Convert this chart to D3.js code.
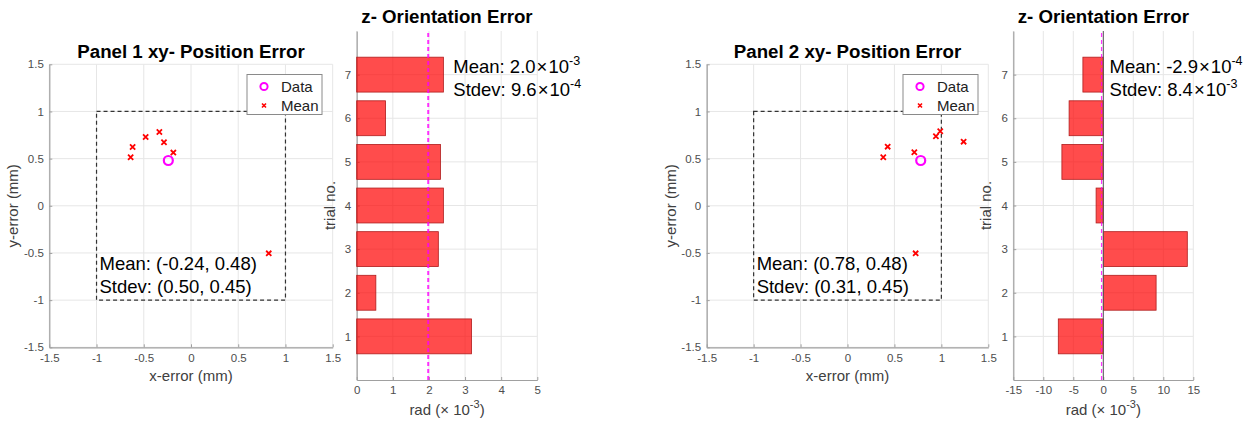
<!DOCTYPE html>
<html><head><meta charset="utf-8">
<script src="https://cdn.jsdelivr.net/npm/d3@7"></script>
<style>body{margin:0;background:#fff;} svg{display:block;font-family:"Liberation Sans",Arial,sans-serif;}</style>
</head><body>
<svg id="chart" width="1259" height="423"></svg>
<script>
// ---- data ----
const trials = [1,2,3,4,5,6,7];
const p1PointsX = [-0.639,-0.618,-0.480,-0.335,-0.286,-0.187,0.823];
const p1PointsY = [0.514,0.624,0.730,0.783,0.673,0.564,-0.504];
const p1Mean = [-0.24, 0.48];
const p1Stdev = [0.50, 0.45];
const p1Orient = [3.18,0.53,2.26,2.40,2.32,0.80,2.40];
const p1OrientMean = 1.98;
const p2PointsX = [0.381,0.428,0.712,0.942,0.988,1.237,0.726];
const p2PointsY = [0.514,0.627,0.567,0.737,0.790,0.680,-0.504];
const p2Mean = [0.78, 0.48];
const p2Stdev = [0.31, 0.45];
const p2Orient = [-7.5,8.8,14.0,-1.2,-6.9,-5.7,-3.4];
const p2OrientMean = -0.29;
const xyTicks = [-1.5,-1,-0.5,0,0.5,1,1.5];
const barTicks1 = [0,1,2,3,4,5];
const barTicks2 = [-15,-10,-5,0,5,10,15];
const orientText1 = ["2.0","-3","9.6","-4"];
const orientText2 = ["-2.9","-4","8.4","-3"];

const svg = d3.select("#chart");
const gridC = "#e6e6e6", axisC = "#a0a0a0", tickTxt = "#4d4d4d", labTxt = "#404040";
const fmt = d => String(d);
const f2 = d => d.toFixed(2);

function axesFrame(x, y, xt, yt) {
  const g = svg.append("g");
  const [x0,x1] = x.range(), [y0,y1] = y.range();
  g.selectAll(".gx").data(xt).join("line").attr("x1",d=>x(d)).attr("x2",d=>x(d))
    .attr("y1",y0).attr("y2",y1).attr("stroke",gridC).attr("stroke-width",1);
  g.selectAll(".gy").data(yt).join("line").attr("y1",d=>y(d)).attr("y2",d=>y(d))
    .attr("x1",x0).attr("x2",x1).attr("stroke",gridC).attr("stroke-width",1);
  const ax = svg.append("g").attr("transform",`translate(0,${y0})`)
    .call(d3.axisBottom(x).tickValues(xt).tickSizeInner(-3).tickSizeOuter(0).tickPadding(4.5).tickFormat(fmt));
  const ay = svg.append("g").attr("transform",`translate(${x0},0)`)
    .call(d3.axisLeft(y).tickValues(yt).tickSizeInner(-3).tickSizeOuter(0).tickPadding(5.5).tickFormat(fmt));
  [ax,ay].forEach(a=>{
    a.select(".domain").attr("stroke",axisC).attr("stroke-width",1.2);
    a.selectAll(".tick line").attr("stroke",axisC);
    a.selectAll("text").attr("fill",tickTxt).attr("font-size",11.5).attr("font-family","Liberation Sans, Arial, sans-serif");
  });
  ax.selectAll("text").attr("dy","0.85em");
  return g;
}

function scatterPanel(title, xr, px, py, mean, stdev, legendX) {
  const x = d3.scaleLinear().domain([-1.5,1.5]).range(xr);
  const y = d3.scaleLinear().domain([-1.5,1.5]).range([347.3,64.3]);
  axesFrame(x,y,xyTicks,xyTicks);
  svg.append("rect").attr("x",x(-1)).attr("y",y(1)).attr("width",x(1)-x(-1)).attr("height",y(-1)-y(1))
    .attr("fill","none").attr("stroke","#333").attr("stroke-width",1.2).attr("stroke-dasharray","4,3");
  const pts = px.map((v,i)=>[v,py[i]]);
  svg.append("g").selectAll("path").data(pts).join("path")
    .attr("d",d=>{const cx=x(d[0]),cy=y(d[1]),s=2.6;return `M${cx-s},${cy-s}L${cx+s},${cy+s}M${cx-s},${cy+s}L${cx+s},${cy-s}`;})
    .attr("stroke","#ff0000").attr("stroke-width",1.8);
  svg.append("circle").attr("cx",x(mean[0])).attr("cy",y(mean[1])).attr("r",4.5)
    .attr("fill","none").attr("stroke","#ff00ff").attr("stroke-width",2.2);
  const cxm = (xr[0]+xr[1])/2;
  svg.append("text").attr("x",cxm).attr("y",58).attr("text-anchor","middle")
    .attr("font-size",18.7).attr("font-weight","bold").attr("fill","#000").text(title);
  svg.append("text").attr("x",cxm).attr("y",381).attr("text-anchor","middle")
    .attr("font-size",15).attr("fill",labTxt).text("x-error (mm)");
  svg.append("text").attr("transform",`translate(${xr[0]-31},${y(0)}) rotate(-90)`).attr("text-anchor","middle")
    .attr("font-size",15).attr("fill",labTxt).text("y-error (mm)");
  svg.append("text").attr("x",x(-1)+3).attr("y",270).attr("font-size",18.5).attr("fill","#000")
    .text(`Mean: (${f2(mean[0])}, ${f2(mean[1])})`);
  svg.append("text").attr("x",x(-1)+3).attr("y",292.5).attr("font-size",18.5).attr("fill","#000")
    .text(`Stdev: (${f2(stdev[0])}, ${f2(stdev[1])})`);
  const lg = svg.append("g").attr("transform",`translate(${legendX},74.5)`);
  lg.append("rect").attr("width",75).attr("height",40).attr("fill","#fff").attr("stroke","#8a8a8a").attr("stroke-width",1);
  lg.append("circle").attr("cx",17).attr("cy",12).attr("r",3.6).attr("fill","none").attr("stroke","#ff00ff").attr("stroke-width",2);
  lg.append("path").attr("d","M15,29L19,33M15,33L19,29").attr("stroke","#ff0000").attr("stroke-width",1.6);
  lg.append("text").attr("x",34).attr("y",17).attr("font-size",15).attr("fill","#222").text("Data");
  lg.append("text").attr("x",34).attr("y",36).attr("font-size",15).attr("fill","#222").text("Mean");
}

function barPanel(xr, domain, ticks, vals, meanVal, txt, meanW) {
  const x = d3.scaleLinear().domain(domain).range(xr);
  const y = d3.scaleLinear().domain([0,8]).range([380,31]);
  axesFrame(x,y,ticks,trials);
  const h = y(0) - y(0.8);
  svg.append("g").selectAll("rect").data(trials).join("rect")
    .attr("x",(d,i)=>x(Math.min(0,vals[i]))).attr("width",(d,i)=>Math.abs(x(vals[i])-x(0)))
    .attr("y",d=>y(d+0.4)).attr("height",h)
    .attr("fill","rgba(255,0,0,0.7)").attr("stroke","#b01c1c").attr("stroke-width",0.8);
  if (domain[0] < 0) {
    svg.append("line").attr("x1",x(0)).attr("x2",x(0)).attr("y1",y(0)).attr("y2",y(8))
      .attr("stroke","#555").attr("stroke-width",1);
  }
  svg.append("line").attr("x1",x(meanVal)).attr("x2",x(meanVal)).attr("y1",y(0)).attr("y2",y(8))
    .attr("stroke","#ff00ff").attr("stroke-width",meanW).attr("stroke-dasharray","4,3").attr("opacity",0.8);
  const cxm = (xr[0]+xr[1])/2;
  svg.append("text").attr("x",cxm).attr("y",23).attr("text-anchor","middle")
    .attr("font-size",18.7).attr("font-weight","bold").attr("fill","#000").text("z- Orientation Error");
  svg.append("text").attr("transform",`translate(${xr[0]-22},${y(4)}) rotate(-90)`).attr("text-anchor","middle")
    .attr("font-size",15).attr("fill",labTxt).text("trial no.");
  const xl = svg.append("text").attr("x",cxm).attr("y",415).attr("text-anchor","middle")
    .attr("font-size",15).attr("fill",labTxt);
  xl.append("tspan").text("rad (\u00d7 10");
  xl.append("tspan").attr("dy",-7).attr("font-size",11).text("-3");
  xl.append("tspan").attr("dy",7).text(")");
  const tx = x(domain[0]) + (x(domain[1])-x(domain[0]))*0.535;
  [[`Mean: ${txt[0]}`, txt[1], 72.5],[`Stdev: ${txt[2]}`, txt[3], 96]].forEach(([a,b,yy])=>{
    const t = svg.append("text").attr("x",tx).attr("y",yy).attr("font-size",18.5).attr("fill","#000");
    t.append("tspan").text(a);
    t.append("tspan").attr("dx",1).text("\u00d7");
    t.append("tspan").attr("dx",1).text("10");
    t.append("tspan").attr("dy",-8).attr("font-size",12.5).text(b);
  });
}

scatterPanel("Panel 1 xy- Position Error",[49.3,332.7],p1PointsX,p1PointsY,p1Mean,p1Stdev,247);
barPanel([356.7,537.3],[0,5],barTicks1,p1Orient,p1OrientMean,orientText1,2);
scatterPanel("Panel 2 xy- Position Error",[706.7,988.3],p2PointsX,p2PointsY,p2Mean,p2Stdev,903);
barPanel([1013.3,1193.3],[-15,15],barTicks2,p2Orient,p2OrientMean,orientText2,1.2);
</script>
</body></html>
